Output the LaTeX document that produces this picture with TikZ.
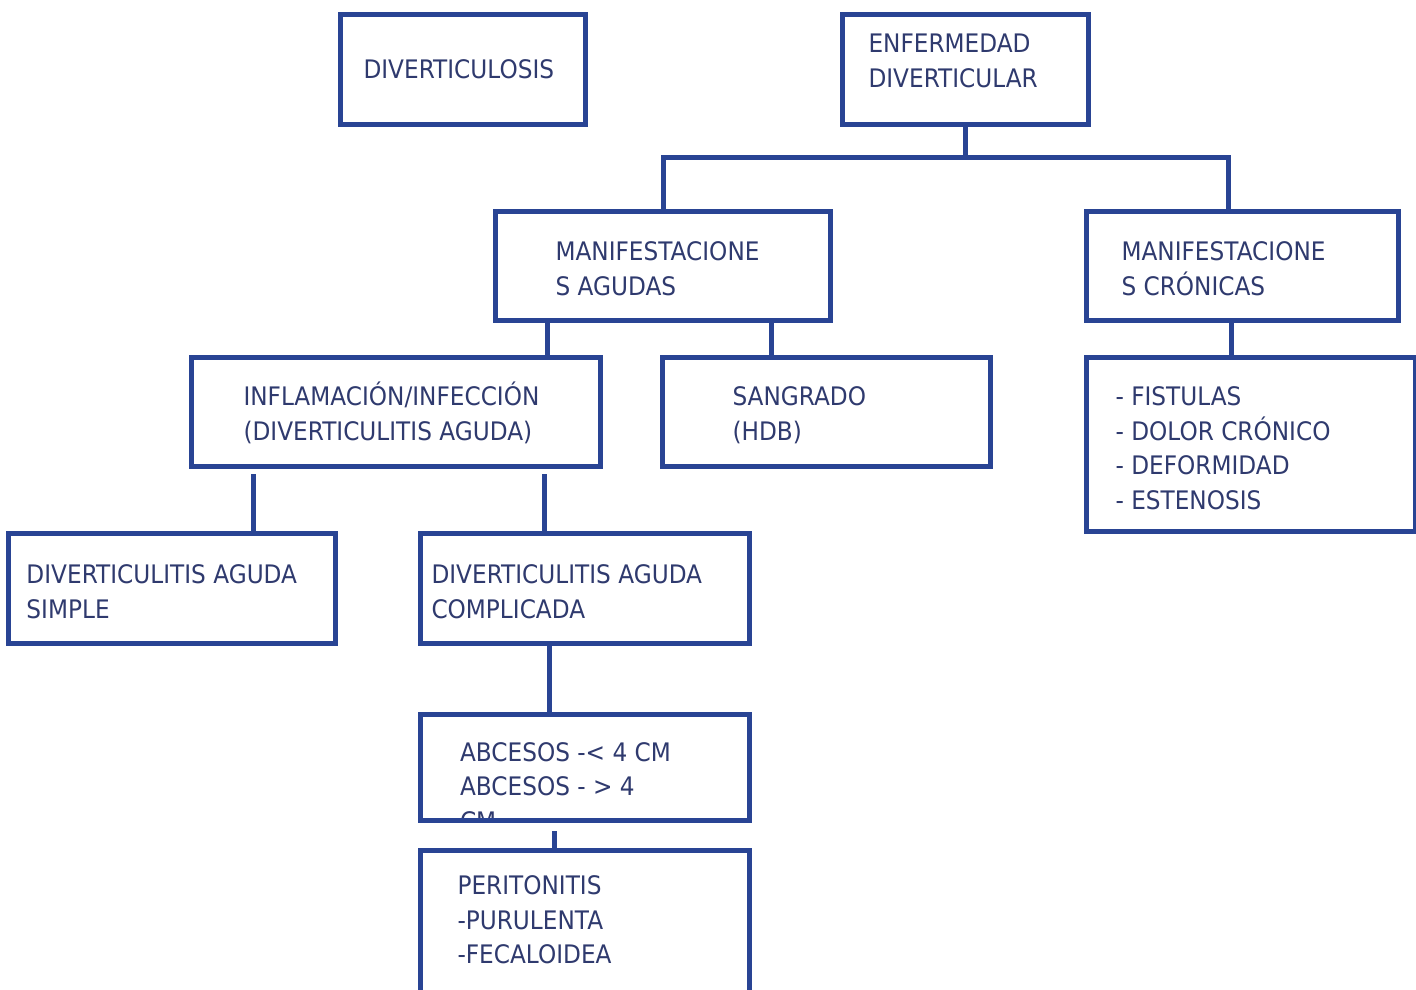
\documentclass[tikz,border=0pt]{standalone}
\usepackage{fontspec}
\setmainfont{DejaVu Sans}[FakeStretch=0.91]
\usepackage{tikz}
\usetikzlibrary{calc}
\definecolor{boxblue}{RGB}{41,68,148}
\definecolor{textnavy}{RGB}{47,58,110}
\newcommand{\boxtext}[5]{\parbox[t][#2][t]{#1}{\raggedright\leftskip=#3\relax\vspace*{#4}\rule{0pt}{13pt}#5}}
\begin{document}
\begin{tikzpicture}[x=0.5pt, y=-0.5pt,
          box/.style={draw=boxblue, line width=2.5pt, inner sep=0pt, anchor=north west, text=textnavy, font=\fontsize{12.75pt}{17.3pt}\selectfont},
          link/.style={draw=boxblue, line width=2.5pt}
      ]
        \clip (0,0) rectangle (1416,989);
        \node[box] (dsis) at (338,12) {\boxtext{122.5pt}{55pt}{11.5pt}{19pt}{DIVERTICULOSIS}};
        \node[box] (enf) at (840,12) {\boxtext{123pt}{55pt}{13pt}{6pt}{ENFERMEDAD\\DIVERTICULAR}};
        \node[box] (agudas) at (493,209) {\boxtext{167.5pt}{54.5pt}{30pt}{11.5pt}{MANIFESTACIONE\\S AGUDAS}};
        \node[box] (cron) at (1084,209) {\boxtext{156pt}{54.5pt}{17.5pt}{11.5pt}{MANIFESTACIONE\\S CRÓNICAS}};
        \node[box] (infl) at (189,355) {\boxtext{204.5pt}{54.5pt}{26pt}{11pt}{INFLAMACIÓN/INFECCIÓN\\(DIVERTICULITIS AGUDA)}};
        \node[box] (sang) at (660,355) {\boxtext{164pt}{54.5pt}{35pt}{11pt}{SANGRADO\\(HDB)}};
        \node[box] (fist) at (1084,355) {\boxtext{164.5pt}{87pt}{14.5pt}{11pt}{- FISTULAS\\- DOLOR CRÓNICO\\- DEFORMIDAD\\- ESTENOSIS}};
        \node[box] (simple) at (6,531) {\boxtext{163.5pt}{55pt}{9pt}{12pt}{DIVERTICULITIS AGUDA\\SIMPLE}};
        \node[box] (compl) at (418,531) {\boxtext{164.5pt}{55pt}{5.5pt}{12pt}{DIVERTICULITIS AGUDA\\COMPLICADA}};
        \node[box, minimum width=164.5pt, minimum height=53pt,
              path picture={\node[draw=none, inner sep=0pt, anchor=north west, text=textnavy] at (path picture bounding box.north west)
                {\boxtext{164.5pt}{53pt}{18.5pt}{9pt}{ABCESOS -< 4 CM\\ABCESOS - > 4\\CM}};}] (abc) at (418,712) {};
        \node[box] (peri) at (418,848) {\boxtext{164.5pt}{80pt}{18.5pt}{9pt}{PERITONITIS\\-PURULENTA\\-FECALOIDEA}};
        \draw[link] (enf.south) -- ++(0,31) -| (agudas.north);
        \draw[link] (enf.south) -- ++(0,31) -| ($(cron.north)+(-14,0)$);
        \draw[link] ($(agudas.south)+(-115.5,0)$) -- ($(infl.north)+(151.5,0)$);
        \draw[link] ($(agudas.south)+(108.5,0)$) -- ($(sang.north)+(-55,0)$);
        \draw[link] ($(cron.south)+(-11,0)$) -- ($(fist.north)+(-19.5,0)$);
        \draw[link] ($(infl.south)+(-142.5,5)$) -- ($(simple.north)+(81.5,0)$);
        \draw[link] ($(infl.south)+(148.5,5)$) -- ($(compl.north)+(-40.5,0)$);
        \draw[link] ($(compl.south)+(-35.5,0)$) -- ($(abc.north)+(-35.5,0)$);
        \draw[link] ($(abc.south)+(-30.5,8)$) -- ($(peri.north)+(-30.5,0)$);
      \end{tikzpicture}
\end{document}
